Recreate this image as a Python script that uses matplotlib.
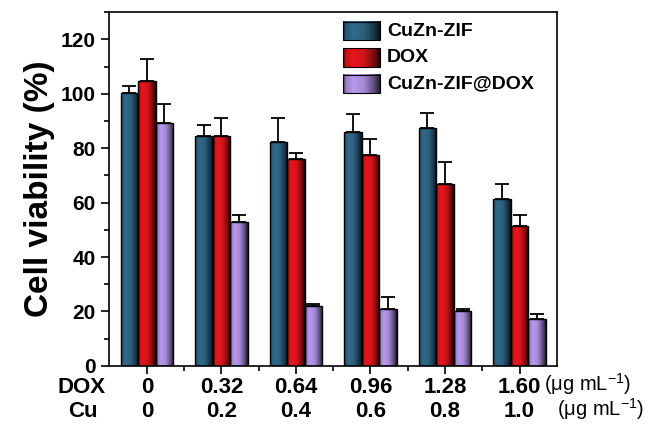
import numpy as np
import matplotlib
matplotlib.use('Agg')
import matplotlib.pyplot as plt
from matplotlib.colors import to_rgb
from matplotlib.patches import Rectangle
from matplotlib.ticker import MultipleLocator, FixedLocator

plt.rcParams['font.family'] = ['Liberation Sans', 'DejaVu Sans']
plt.rcParams['mathtext.fontset'] = 'custom'
plt.rcParams['mathtext.rm'] = 'Liberation Sans'

# Data
series = ['CuZn-ZIF', 'DOX', 'CuZn-ZIF@DOX']
colors = ['#306a8c', '#e8161d', '#b898ee']
dox_conc = ['0', '0.32', '0.64', '0.96', '1.28', '1.60']
cu_conc = ['0', '0.2', '0.4', '0.6', '0.8', '1.0']
viab_zif = [100.1, 84.6, 82.2, 86.0, 87.4, 61.4]
viab_dox = [104.8, 84.6, 76.1, 77.5, 66.7, 51.5]
viab_zifdox = [89.3, 52.9, 22.0, 21.0, 20.0, 17.2]
err_zif = [2.9, 4.0, 9.0, 6.6, 5.7, 5.3]
err_dox = [7.9, 6.6, 2.3, 5.7, 8.4, 3.8]
err_zifdox = [7.0, 2.4, 0.8, 4.2, 1.0, 1.8]

values = [viab_zif, viab_dox, viab_zifdox]
errors = [err_zif, err_dox, err_zifdox]

# shading profile across a bar (dark edges, bright left-centre)
prof = np.interp(np.linspace(0, 1, 64), [0, 0.08, 0.28, 0.55, 0.8, 1.0],
                 [0.35, 0.85, 1.0, 0.9, 0.55, 0.15])


def gradient(color):
    rgb = np.array(to_rgb(color))
    return np.clip(prof[None, :, None] * rgb[None, None, :], 0, 1)


fig = plt.figure(figsize=(6.52, 4.32), dpi=100)
ax = fig.add_axes([0.167, 0.153, 0.687, 0.819])

x = np.arange(len(dox_conc))
w = 0.235
for i, (vals, errs, c) in enumerate(zip(values, errors, colors)):
    pos = x + (i - 1) * w
    bars = ax.bar(pos, vals, w, facecolor='none', edgecolor='black',
                  linewidth=1.0, zorder=3)
    for b in bars:
        bx, by = b.get_xy()
        im = ax.imshow(gradient(c), extent=[bx, bx + b.get_width(), by, by + b.get_height()],
                       aspect='auto', interpolation='bilinear', zorder=2)
        im.set_clip_path(b)
    ax.errorbar(pos, vals, yerr=[np.zeros(len(vals)), errs], fmt='none',
                ecolor='black', elinewidth=1.3, capsize=5, capthick=1.3, zorder=4)

# legend drawn by hand with shaded handles
for i, (name, c) in enumerate(zip(series, colors)):
    yc = 0.946 - i * 0.0745
    h = 0.052
    ext = [0.522, 0.605, yc - h / 2, yc + h / 2]
    ax.imshow(gradient(c), extent=ext, aspect='auto', transform=ax.transAxes,
              interpolation='bilinear', zorder=5)
    ax.add_patch(Rectangle((ext[0], ext[2]), ext[1] - ext[0], h, transform=ax.transAxes,
                           facecolor='none', edgecolor='black', lw=0.8, zorder=6))
    ax.text(0.621, yc, name, transform=ax.transAxes, fontsize=14,
            fontweight='bold', va='center', ha='left')

ax.set_xlim(-0.51, 5.5)
ax.set_ylim(0, 130)
ax.yaxis.set_major_locator(FixedLocator([0, 20, 40, 60, 80, 100, 120]))
ax.yaxis.set_minor_locator(MultipleLocator(10))
ax.xaxis.set_major_locator(FixedLocator(x))
ax.xaxis.set_minor_locator(FixedLocator(x[:-1] + 0.5))
ax.set_xticklabels([])
ax.tick_params(axis='both', which='major', direction='out', length=6, width=1.2,
               labelsize=15)
ax.tick_params(axis='both', which='minor', direction='out', length=3.5, width=1.2)
for lab in ax.get_yticklabels():
    lab.set_fontweight('bold')
for s in ax.spines.values():
    s.set_linewidth(1.2)

ax.set_ylabel('Cell viability (%)', fontsize=24, fontweight='bold', labelpad=4)

# concentration rows under the axis
tr = ax.get_xaxis_transform()
ax.text(-0.88, -0.06, 'DOX', transform=tr, fontsize=16, fontweight='bold',
        ha='center', va='center')
ax.text(-0.86, -0.128, 'Cu', transform=tr, fontsize=16, fontweight='bold',
        ha='center', va='center')
for xi, d, c in zip(x, dox_conc, cu_conc):
    ax.text(xi, -0.06, d, transform=tr, fontsize=16, fontweight='bold',
            ha='center', va='center')
    ax.text(xi, -0.128, c, transform=tr, fontsize=16, fontweight='bold',
            ha='center', va='center')
ax.text(5.33, -0.052, r'(μg mL$^{-1}$)', transform=tr, fontsize=14.5,
        ha='left', va='center')
ax.text(5.5, -0.122, r'(μg mL$^{-1}$)', transform=tr, fontsize=14.5,
        ha='left', va='center')

fig.savefig('out.png', dpi=100)
